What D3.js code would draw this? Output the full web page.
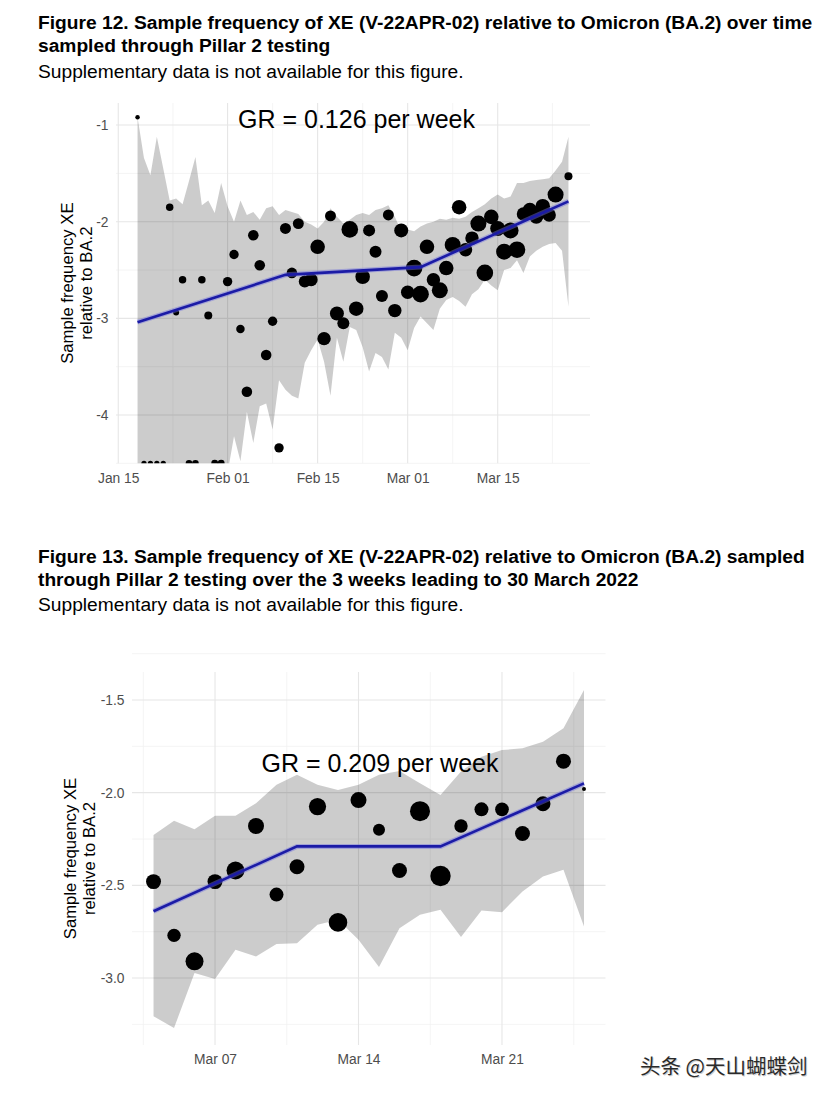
<!DOCTYPE html>
<html><head><meta charset="utf-8">
<script src="https://cdn.jsdelivr.net/npm/d3@7"></script>
<style>body{margin:0;background:#fff}svg{display:block}</style>
</head><body>
<svg id="c" width="832" height="1094"></svg>
<script>
// ---------------- Figure 12 data (daily, 2022-01-18 .. 2022-03-26) ----------------
const fig12Start = "2022-01-18";
const fig12End = "2022-03-26";
const fig12Values = [-0.92,-4.5,-4.5,-4.5,-4.5,-1.85,-2.94,-2.60,-4.5,-4.5,-2.60,-2.97,-4.5,-4.5,
  -2.62,-2.34,-3.11,-3.76,-2.14,-2.45,-3.38,-3.03,-4.34,-2.07,-2.53,-2.02,-2.62,-2.60,-2.26,-3.21,
  -1.94,-2.95,-3.05,-2.08,-2.90,-2.57,-2.09,-2.31,-2.77,-1.93,-2.92,-2.09,
  -2.73,-2.48,-2.75,-2.26,-2.60,-2.71,-2.48,-2.24,-1.85,-2.29,-2.17,-2.02,-2.53,-1.95,-2.07,-2.31,
  -2.09,-2.29,-1.92,-1.88,-1.95,-1.84,-1.93,-1.72,null,-1.53];
const fig12Counts = [5,7,7,7,7,14,9,14,11,11,14,16,12,12,
  22,22,18,28,28,28,28,22,22,30,28,30,36,42,53,45,
  30,49,36,69,53,53,36,36,36,30,45,49,
  45,69,69,53,45,64,53,64,53,45,45,64,69,53,56,64,
  64,69,45,53,49,53,45,64,0,16];
const fig12Upper = [-0.92,-1.34,-1.52,-1.12,-1.45,-1.78,-1.76,-1.82,-1.58,-1.33,-1.83,-1.78,-1.91,-1.60,
  -1.84,-2.00,-1.78,-1.93,-1.90,-1.98,-1.86,-1.84,-1.93,-1.88,-1.90,-1.92,-2.00,-2.03,-2.07,-2.00,
  -1.86,-1.95,-2.02,-1.98,-1.93,-1.91,-1.93,-1.88,-1.86,-1.83,-1.95,-2.10,
  -2.08,-2.10,-2.05,-2.02,-2.00,-1.97,-1.98,-1.96,-1.97,-1.95,-1.90,-1.86,-1.82,-1.76,-1.72,-1.76,
  -1.74,-1.60,-1.60,-1.58,-1.57,-1.56,-1.55,-1.47,-1.38,-1.12];
const fig12Lower = [-5.0,-5.0,-5.0,-5.0,-5.0,-5.0,-5.0,-5.0,-5.0,-5.0,-5.0,-5.0,-5.0,-5.0,
  -4.60,-4.22,-4.48,-3.97,-4.29,-3.91,-3.88,-4.15,-3.64,-3.74,-3.80,-3.83,-3.46,-3.33,-3.22,-3.45,
  -3.80,-3.20,-3.45,-3.09,-3.12,-3.30,-3.55,-3.36,-3.40,-3.53,-3.15,-3.20,
  -3.33,-3.10,-2.98,-3.05,-3.12,-2.90,-2.81,-2.78,-2.82,-2.88,-2.75,-2.70,-2.60,-2.66,-2.71,-2.50,
  -2.48,-2.40,-2.53,-2.36,-2.30,-2.26,-2.23,-2.22,-2.30,-2.88];
const fig12FitDates = ["2022-01-18","2022-02-10","2022-03-03","2022-03-26"];
const fig12Fit = [-3.04,-2.55,-2.47,-1.79];
const fig12XTicks = ["2022-01-15","2022-02-01","2022-02-15","2022-03-01","2022-03-15"];
const fig12XMinor = ["2022-01-23T12:00","2022-02-08","2022-02-22","2022-03-08","2022-03-23T12:00"];
const fig12YTicks = [-1,-2,-3,-4];
const fig12YMinor = [-1.5,-2.5,-3.5,-4.5];
const fig12YLimits = [-4.5,-0.772];
const fig12Label = "GR = 0.126 per week";

// ---------------- Figure 13 data (daily, 2022-03-04 .. 2022-03-25) ----------------
const fig13Start = "2022-03-04";
const fig13End = "2022-03-25";
const fig13Values = [-2.48,-2.77,-2.91,-2.48,-2.42,-2.18,-2.55,-2.40,-2.075,-2.70,-2.04,
  -2.20,-2.42,-2.10,-2.45,-2.18,-2.09,-2.09,-2.22,-2.06,-1.83,-1.98];
const fig13Counts = [56,45,81,56,81,64,49,56,74,86,64,36,56,100,104,45,49,47,56,56,56,4];
const fig13Upper = [-2.228,-2.152,-2.197,-2.124,-2.124,-2.057,-1.958,-1.904,-1.958,-1.985,-1.958,
  -1.904,-1.883,-1.949,-2.012,-1.886,-1.806,-1.770,-1.761,-1.725,-1.653,-1.446];
const fig13Lower = [-3.207,-3.27,-2.973,-3.006,-2.848,-2.884,-2.817,-2.812,-2.713,-2.686,-2.794,
  -2.941,-2.731,-2.659,-2.632,-2.779,-2.636,-2.645,-2.533,-2.453,-2.416,-2.722];
const fig13FitDates = ["2022-03-04","2022-03-11","2022-03-18","2022-03-25"];
const fig13Fit = [-2.64,-2.29,-2.29,-1.95];
const fig13XTicks = ["2022-03-07","2022-03-14","2022-03-21"];
const fig13XMinor = ["2022-03-03T12:00","2022-03-10T12:00","2022-03-17T12:00","2022-03-24T12:00"];
const fig13YTicks = [-1.5,-2.0,-2.5,-3.0];
const fig13YMinor = [-1.25,-1.75,-2.25,-2.75,-3.25];
const fig13YLimits = [-3.3615,-1.349];
const fig13Label = "GR = 0.209 per week";

const yTitle = ["Sample frequency XE","relative to BA.2"];

// ---------------- drawing ----------------
const FONT = "'Liberation Sans', Arial, Helvetica, sans-serif";
const parse = d3.isoParse;
const fmt = d3.utcFormat("%b %d");
const svg = d3.select("#c");

function texts(lines, x, y0, dy, size, weight) {
  lines.forEach((t, i) => {
    svg.append("text").attr("x", x).attr("y", y0 + i * dy)
      .attr("font-family", FONT).attr("font-size", size).attr("font-weight", weight)
      .attr("fill", "#000").text(t);
  });
}

function drawChart(o) {
  const days = d3.utcDay.range(parse(o.start), d3.utcDay.offset(parse(o.end), 1));
  const rows = days.map((d, i) => ({d, v: o.values[i], n: o.counts[i], lo: o.lower[i], hi: o.upper[i]}));
  const d0 = days[0], d1 = days[days.length - 1], span = d1 - d0;
  const x = d3.scaleUtc().domain([new Date(+d0 - 0.05 * span), new Date(+d1 + 0.05 * span)]).range(o.xr);
  const y = d3.scaleLinear().domain(o.ylim).range(o.yr);
  const r = d3.scaleSqrt().domain([0, 100]).range([0, 10]);
  const [L, R] = o.xr, [B, T] = o.yr;
  const g = svg.append("g");
  const clipId = "clip" + o.id;
  svg.append("clipPath").attr("id", clipId).append("rect")
    .attr("x", L).attr("y", T).attr("width", R - L).attr("height", B - T);

  // grid
  const grid = g.append("g");
  grid.selectAll(".vm").data(o.xMinor.map(parse)).join("line")
    .attr("x1", d => x(d)).attr("x2", d => x(d)).attr("y1", T).attr("y2", B)
    .attr("stroke", "#f1f1f1").attr("stroke-width", 0.8);
  grid.selectAll(".hm").data(o.yMinor).join("line")
    .attr("x1", L).attr("x2", R).attr("y1", d => y(d)).attr("y2", d => y(d))
    .attr("stroke", "#f1f1f1").attr("stroke-width", 0.8);
  grid.selectAll(".vM").data(o.xTicks.map(parse)).join("line")
    .attr("x1", d => x(d)).attr("x2", d => x(d)).attr("y1", T).attr("y2", B)
    .attr("stroke", "#e6e6e6").attr("stroke-width", 1.1);
  grid.selectAll(".hM").data(o.yTicks).join("line")
    .attr("x1", L).attr("x2", R).attr("y1", d => y(d)).attr("y2", d => y(d))
    .attr("stroke", "#e6e6e6").attr("stroke-width", 1.1);

  const plot = g.append("g").attr("clip-path", `url(#${clipId})`);
  // ribbon
  plot.append("path").datum(rows)
    .attr("d", d3.area().x(d => x(d.d)).y0(d => y(d.lo)).y1(d => y(d.hi)))
    .attr("fill", "#000").attr("fill-opacity", 0.2);
  // points
  plot.selectAll("circle").data(rows.filter(d => d.v !== null)).join("circle")
    .attr("cx", d => x(d.d)).attr("cy", d => y(d.v)).attr("r", d => r(d.n))
    .attr("fill", "#000");
  // fit line
  const fit = o.fitDates.map((d, i) => ({d: parse(d), v: o.fit[i]}));
  const line = d3.line().x(d => x(d.d)).y(d => y(d.v));
  plot.append("path").datum(fit).attr("d", line).attr("fill", "none")
    .attr("stroke", "#6f6fe0").attr("stroke-opacity", 0.45).attr("stroke-width", 5);
  plot.append("path").datum(fit).attr("d", line).attr("fill", "none")
    .attr("stroke", "#1b1ba6").attr("stroke-width", 2.6);

  // annotation
  g.append("text").attr("x", o.labelPos[0]).attr("y", o.labelPos[1])
    .attr("text-anchor", "middle").attr("font-family", FONT).attr("font-size", 25)
    .attr("fill", "#000").text(o.label);

  // axes
  const ax = g.append("g").attr("transform", `translate(0,${B})`)
    .call(d3.axisBottom(x).tickValues(o.xTicks.map(parse)).tickFormat(fmt).tickSize(0).tickPadding(9.5));
  const ay = g.append("g").attr("transform", `translate(${L},0)`)
    .call(d3.axisLeft(y).tickValues(o.yTicks).tickFormat(o.yFmt).tickSize(0).tickPadding(7.5));
  [ax, ay].forEach(a => {
    a.select(".domain").remove();
    a.selectAll("text").attr("font-family", FONT).attr("font-size", 13.8).attr("fill", "#4d4d4d");
  });

  // y title
  const cy = (T + B) / 2;
  o.titleX.forEach((tx, i) => {
    g.append("text").attr("transform", `translate(${tx},${cy}) rotate(-90)`)
      .attr("text-anchor", "middle").attr("font-family", FONT).attr("font-size", 16.7)
      .attr("fill", "#000").text(yTitle[i]);
  });
}

// headings
texts(["Figure 12. Sample frequency of XE (V-22APR-02) relative to Omicron (BA.2) over time",
       "sampled through Pillar 2 testing"], 38, 29, 23, 19.2, "bold");
texts(["Supplementary data is not available for this figure."], 38, 78, 0, 19.2, "normal");
texts(["Figure 13. Sample frequency of XE (V-22APR-02) relative to Omicron (BA.2) sampled",
       "through Pillar 2 testing over the 3 weeks leading to 30 March 2022"], 38, 563, 23, 19.2, "bold");
texts(["Supplementary data is not available for this figure."], 38, 611, 0, 19.2, "normal");

drawChart({id: 12, start: fig12Start, end: fig12End, values: fig12Values, counts: fig12Counts,
  upper: fig12Upper, lower: fig12Lower, fitDates: fig12FitDates, fit: fig12Fit,
  xTicks: fig12XTicks, xMinor: fig12XMinor, yTicks: fig12YTicks, yMinor: fig12YMinor,
  ylim: fig12YLimits, xr: [116, 590], yr: [463.3, 103], yFmt: d => String(d),
  label: fig12Label, labelPos: [356.5, 128], titleX: [73, 91.5]});

drawChart({id: 13, start: fig13Start, end: fig13End, values: fig13Values, counts: fig13Counts,
  upper: fig13Upper, lower: fig13Lower, fitDates: fig13FitDates, fit: fig13Fit,
  xTicks: fig13XTicks, xMinor: fig13XMinor, yTicks: fig13YTicks, yMinor: fig13YMinor,
  ylim: fig13YLimits, xr: [132, 605.5], yr: [1045, 672], yFmt: d => d.toFixed(1),
  label: fig13Label, labelPos: [380, 772], titleX: [76, 94.5]});

// watermark
svg.append("text").attr("x", 641).attr("y", 1075).attr("font-family", "'Noto Sans CJK SC', sans-serif")
  .attr("font-size", 20.5).attr("fill", "#d0d0d0").text("头条 @天山蝴蝶剑");
svg.append("text").attr("x", 640).attr("y", 1074).attr("font-family", "'Noto Sans CJK SC', sans-serif")
  .attr("font-size", 20.5).attr("fill", "#2a2a2a").text("头条 @天山蝴蝶剑");
</script>
</body></html>
